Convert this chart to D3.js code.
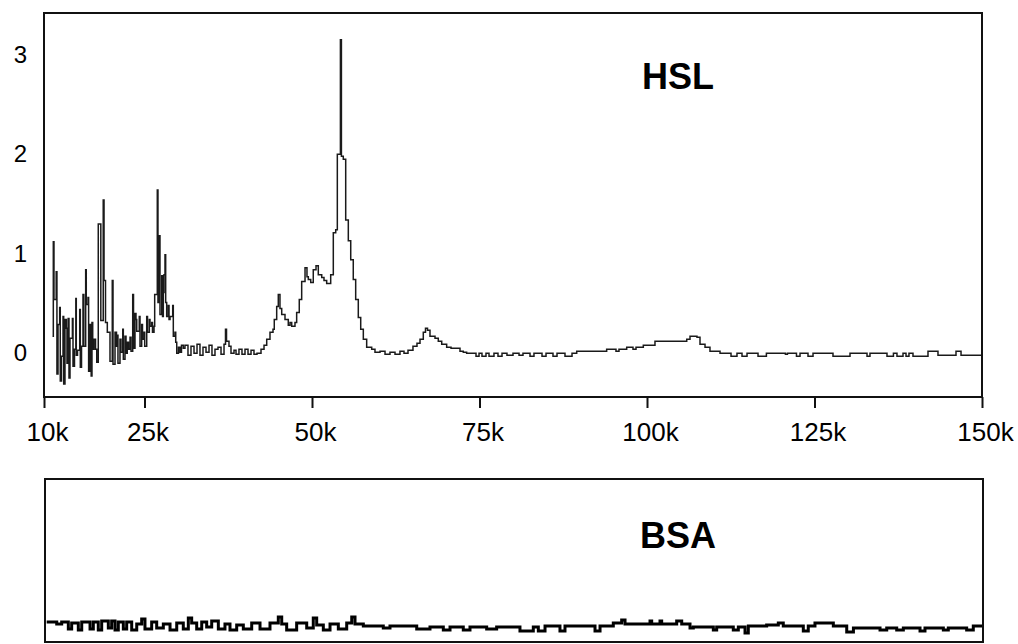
<!DOCTYPE html>
<html>
<head>
<meta charset="utf-8">
<script src="https://d3js.org/d3.v7.min.js"></script>
<style>
  body { margin: 0; background: #fff; }
  text { font-family: "Liberation Sans", Arial, Helvetica, sans-serif; }
</style>
</head>
<body>
<div id="chart"></div>
<script>
/* global d3 */

// Mass axis (k), ticks and labels
const massTicks = [10, 25, 50, 75, 100, 125, 150]
const signalTicks = [0, 1, 2, 3]

// HSL spectrum (mass in k, signal)
const hslMass = [
  11.27, 11.39, 11.49, 11.82, 11.93, 12.09, 12.34, 12.43, 12.61, 12.84,
  12.94, 13.13, 13.34, 13.43, 13.61, 13.73, 13.88, 14.24, 14.33, 14.55,
  14.75, 14.82, 15.00, 15.33, 15.42, 15.60, 15.82, 15.94, 16.22, 16.31,
  16.57, 16.66, 16.87, 17.04, 17.16, 17.27, 17.46, 17.69, 17.87, 18.10,
  18.48, 18.84, 18.96, 19.18, 19.45, 19.85, 20.19, 20.30, 20.60, 20.82,
  20.94, 21.04, 21.34, 21.49, 21.75, 21.84, 22.09, 22.24, 22.43, 22.61,
  22.84, 22.99, 23.24, 23.36, 23.58, 23.73, 23.84, 24.22, 24.33, 24.58,
  24.70, 24.93, 25.03, 25.33, 25.45, 25.72, 25.82, 26.07, 26.19, 26.42,
  26.52, 26.91, 27.01, 27.21, 27.31, 27.57, 27.69, 27.81, 27.91, 28.06,
  28.16, 28.31, 28.55, 28.66, 28.81, 29.21, 29.30, 29.55, 29.66, 29.81,
  30.07, 30.30, 30.52, 30.79, 31.04, 31.49, 31.94, 32.39, 32.84, 33.28,
  33.73, 34.18, 34.63, 35.07, 35.52, 35.97, 36.42, 36.87, 37.09, 37.24,
  37.61, 37.91, 38.36, 38.66, 39.10, 39.55, 40.00, 40.45, 40.90, 41.34,
  41.79, 42.39, 42.84, 43.24, 43.73, 44.18, 44.37, 44.73, 44.97, 45.22,
  45.48, 45.97, 46.46, 46.72, 46.97, 47.46, 47.71, 48.10, 48.46, 48.96,
  49.25, 49.45, 49.81, 50.19, 50.60, 50.94, 51.45, 51.79, 52.19, 52.79,
  53.18, 53.54, 53.78, 54.24, 54.39, 54.67, 55.03, 55.42, 55.78, 56.16,
  56.52, 56.91, 57.27, 57.66, 58.16, 58.91, 59.40, 60.15, 60.90, 61.64,
  62.39, 63.13, 63.73, 64.33, 65.07, 65.67, 66.12, 66.61, 66.94, 67.24,
  67.61, 68.36, 68.85, 69.36, 70.10, 70.75, 71.60, 72.09, 72.58, 73.08,
  74.48, 74.93, 75.37, 75.97, 76.42, 77.16, 77.76, 78.36, 79.10, 80.00,
  80.90, 81.49, 82.54, 83.13, 84.33, 84.93, 85.97, 86.57, 87.76, 88.81,
  89.51, 93.98, 95.37, 95.82, 96.97, 97.91, 98.36, 99.45, 101.19, 105.93,
  106.42, 107.46, 107.91, 108.66, 109.40, 110.90, 112.54, 113.43, 114.18, 114.93,
  116.57, 117.82, 120.66, 120.96, 122.31, 122.84, 124.03, 124.78, 127.76, 130.30,
  132.84, 133.28, 135.82, 136.78, 137.31, 138.21, 138.66, 139.10, 139.70, 141.94,
  143.43, 146.12, 146.87, 150.00
]
const hslSignal = [
  0.17, 1.12, 0.54, 0.82, -0.21, 0.29, 0.46, -0.28, -0.03, 0.37,
  -0.31, 0.34, 0.25, -0.10, 0.35, -0.25, 0.15, 0.35, -0.13, 0.04,
  0.55, -0.02, 0.03, 0.44, -0.14, 0.07, 0.59, 0.07, 0.84, 0.49,
  0.56, -0.18, 0.29, -0.23, 0.31, 0.04, 0.14, 0.04, -0.09, 1.30,
  0.33, 1.54, 0.73, 0.31, 0.21, -0.08, 0.73, -0.11, 0.21, 0.07,
  0.18, -0.10, 0.14, 0.01, 0.24, -0.06, 0.17, 0.00, 0.11, 0.04,
  0.16, 0.02, 0.59, 0.05, 0.40, 0.34, 0.22, 0.37, 0.07, 0.29,
  0.14, 0.21, 0.07, 0.37, 0.21, 0.34, 0.27, 0.31, 0.21, 0.27,
  0.59, 1.64, 0.51, 1.18, 0.39, 0.78, 0.37, 0.61, 0.79, 0.99,
  0.51, 0.37, 0.48, 0.34, 0.37, 0.48, 0.17, 0.21, 0.11, 0.00,
  0.06, 0.01, 0.08, 0.05, 0.08, -0.02, 0.07, 0.00, 0.09, -0.02,
  0.06, 0.01, 0.08, -0.02, 0.04, 0.06, -0.01, 0.09, 0.24, 0.12,
  0.07, 0.00, 0.03, -0.01, 0.04, -0.01, 0.04, -0.01, 0.03, -0.01,
  0.00, 0.04, 0.08, 0.14, 0.21, 0.24, 0.34, 0.47, 0.59, 0.45,
  0.39, 0.34, 0.28, 0.31, 0.27, 0.31, 0.41, 0.54, 0.72, 0.86,
  0.77, 0.74, 0.71, 0.84, 0.88, 0.79, 0.76, 0.73, 0.70, 0.79,
  1.21, 1.24, 2.00, 3.15, 1.98, 1.95, 1.34, 1.13, 0.94, 0.74,
  0.54, 0.36, 0.24, 0.14, 0.06, 0.04, 0.01, 0.02, -0.01, 0.01,
  -0.01, 0.02, 0.00, 0.03, 0.07, 0.10, 0.14, 0.21, 0.25, 0.23,
  0.17, 0.15, 0.12, 0.09, 0.06, 0.05, 0.05, 0.02, 0.01, 0.00,
  -0.03, 0.00, -0.03, 0.00, -0.03, 0.00, -0.03, 0.00, -0.02, 0.00,
  -0.02, 0.00, -0.03, 0.00, -0.03, 0.00, -0.03, 0.00, -0.03, 0.00,
  0.02, 0.04, 0.02, 0.04, 0.06, 0.04, 0.06, 0.08, 0.12, 0.14,
  0.17, 0.16, 0.09, 0.06, 0.02, 0.00, -0.03, 0.00, -0.03, 0.00,
  -0.03, 0.00, -0.01, 0.00, -0.03, 0.00, -0.03, 0.00, -0.03, 0.00,
  -0.03, 0.00, -0.03, 0.00, -0.03, 0.00, -0.03, 0.00, -0.03, 0.02,
  -0.02, 0.02, -0.02, -0.02
]

// BSA control spectrum
const bsaMass = [
  10.40, 11.90, 12.64, 13.63, 14.13, 15.12, 15.63, 16.87, 17.36, 18.10,
  18.61, 19.60, 20.10, 20.60, 21.09, 21.84, 22.34, 23.09, 23.84, 24.58,
  25.07, 26.07, 26.82, 27.81, 28.81, 29.81, 30.79, 31.54, 32.04, 32.79,
  33.54, 34.28, 35.03, 36.02, 37.01, 37.76, 38.76, 39.75, 41.00, 42.24,
  43.73, 44.97, 45.48, 46.22, 47.71, 49.21, 50.19, 50.70, 51.69, 52.69,
  53.93, 55.18, 55.93, 56.42, 57.66, 60.64, 61.64, 65.63, 67.61, 69.60,
  70.60, 72.58, 73.58, 76.07, 77.56, 81.04, 83.03, 83.78, 84.78, 87.01,
  87.76, 92.24, 92.99, 94.97, 96.22, 96.72, 100.45, 100.70, 101.94, 102.19,
  104.43, 105.18, 106.42, 106.91, 109.90, 110.40, 112.88, 113.63, 114.63, 115.12,
  117.86, 119.60, 120.34, 123.33, 124.07, 125.07, 127.81, 129.81, 130.81, 134.78,
  135.78, 137.27, 138.26, 140.75, 141.49, 144.23, 144.97, 147.71, 148.70, 150.00
]
const bsaSignal = [
  0.03, 0.01, 0.03, -0.04, 0.02, -0.05, 0.03, -0.04, 0.03, -0.05,
  0.04, -0.03, 0.04, -0.05, 0.03, -0.04, 0.03, -0.05, 0.01, 0.06,
  -0.04, 0.03, -0.03, 0.01, -0.05, 0.02, -0.04, 0.07, 0.02, -0.04,
  0.03, -0.02, 0.04, -0.04, 0.01, -0.05, 0.00, -0.04, 0.02, -0.04,
  0.02, 0.08, 0.01, -0.05, 0.02, -0.03, 0.07, 0.00, -0.05, 0.01,
  -0.04, 0.02, 0.08, 0.01, -0.01, -0.03, -0.01, -0.04, -0.02, -0.05,
  -0.02, -0.05, -0.02, -0.04, -0.02, -0.06, -0.02, -0.06, -0.01, -0.06,
  -0.01, -0.06, -0.01, 0.02, 0.05, 0.01, 0.04, 0.01, 0.04, 0.01,
  0.04, 0.01, -0.03, -0.02, -0.05, -0.02, -0.05, -0.02, -0.08, -0.01,
  0.00, 0.02, -0.01, -0.06, -0.01, 0.02, -0.01, -0.07, -0.03, -0.05,
  -0.03, -0.05, -0.03, -0.06, -0.03, -0.05, -0.03, -0.05, -0.01, -0.01
]

const width = 1018,
  height = 644

let svg = d3.select('#chart')
  .append('svg')
  .attr('width', width)
  .attr('height', height)
  .style('background', '#fff')

const x = d3.scaleLinear()
  .domain([10, 150])
  .range([44, 982])

// top panel
const yTop = d3.scaleLinear()
  .domain([-0.44, 3.42])
  .range([397, 13])

// bottom panel
const yBottom = d3.scaleLinear()
  .domain([-0.18, 1.46])
  .range([643, 479])

let hslData = d3.zip(hslMass, hslSignal)
let bsaData = d3.zip(bsaMass, bsaSignal)

let lineTop = d3.line()
  .x(d => x(d[0]))
  .y(d => yTop(d[1]))
  .curve(d3.curveStepAfter)

let lineBottom = d3.line()
  .x(d => x(d[0]))
  .y(d => yBottom(d[1]))
  .curve(d3.curveStepAfter)

svg.append('path')
  .datum(hslData)
  .attr('d', lineTop)
  .attr('fill', 'none')
  .attr('stroke', '#1a1a1a')
  .attr('stroke-width', 1.5)

svg.append('rect')
  .attr('x', x(10))
  .attr('y', yTop(3.42))
  .attr('width', x(150) - x(10))
  .attr('height', yTop(-0.44) - yTop(3.42))
  .attr('fill', 'none')
  .attr('stroke', '#111')
  .attr('stroke-width', 2)

let xAxis = svg.append('g')
  .attr('transform', `translate(0, ${yTop(-0.44)})`)
  .call(d3.axisBottom(x)
    .tickValues(massTicks)
    .tickFormat(d => d + 'k')
    .tickSize(11)
    .tickPadding(15))
xAxis.select('.domain').remove()
xAxis.selectAll('line').attr('stroke', '#111').attr('stroke-width', 2)
xAxis.selectAll('text')
  .attr('fill', '#000')
  .style('font-size', '26px')
  .attr('dx', 3)

let yAxis = svg.append('g')
  .attr('transform', `translate(${x(10)}, 0)`)
  .call(d3.axisLeft(yTop)
    .tickValues(signalTicks)
    .tickFormat(d3.format('d'))
    .tickSize(0)
    .tickPadding(17))
yAxis.select('.domain').remove()
yAxis.selectAll('text')
  .attr('fill', '#000')
  .style('font-size', '24px')

svg.append('text')
  .attr('x', 678)
  .attr('y', 89)
  .attr('text-anchor', 'middle')
  .style('font-size', '36px')
  .style('font-weight', 'bold')
  .text('HSL')

// BSA panel
svg.append('path')
  .datum(bsaData)
  .attr('d', lineBottom)
  .attr('fill', 'none')
  .attr('stroke', '#000')
  .attr('stroke-width', 3)

svg.append('rect')
  .attr('x', 45)
  .attr('y', yBottom(1.46))
  .attr('width', 938)
  .attr('height', yBottom(-0.18) - yBottom(1.46) - 1)
  .attr('fill', 'none')
  .attr('stroke', '#111')
  .attr('stroke-width', 2)

svg.append('text')
  .attr('x', 678)
  .attr('y', 548)
  .attr('text-anchor', 'middle')
  .style('font-size', '36px')
  .style('font-weight', 'bold')
  .text('BSA')
</script>
</body>
</html>
